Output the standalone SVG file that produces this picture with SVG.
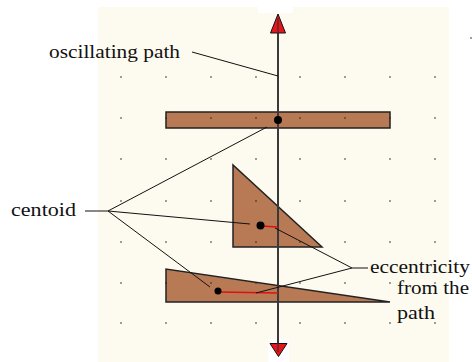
<svg xmlns="http://www.w3.org/2000/svg" width="472" height="362" viewBox="0 0 472 362">
<style>
.lbl{font-family:"Liberation Serif","Times New Roman",serif;font-size:19px;fill:#111}
.shape{fill:#B87A55;stroke:#222;stroke-width:1.5}
.lead{stroke:#111;stroke-width:1;fill:none}
.ecc{stroke:#E01010;stroke-width:1.5}
.dot{fill:#222}
.arrow{fill:#E8141C;stroke:#111;stroke-width:1}
</style>
<defs>
<g id="grow">
<circle cx="121" cy="0" r="0.8"/><circle cx="166" cy="0" r="0.8"/><circle cx="211" cy="0" r="0.8"/><circle cx="256" cy="0" r="0.8"/><circle cx="300" cy="0" r="0.8"/><circle cx="345" cy="0" r="0.8"/><circle cx="390" cy="0" r="0.8"/><circle cx="435" cy="0" r="0.8"/>
</g>
</defs>
<rect width="472" height="362" fill="#fff"/>
<rect x="98" y="7" width="351" height="355" fill="#FDFBF0"/>
<rect x="258" y="0" width="35" height="13" fill="#fff"/>
<rect x="268" y="339" width="21" height="23" fill="#fff"/>

<g id="bar"><rect class="shape" x="166" y="112" width="224" height="16"/></g>
<g id="triangle-mid"><polygon class="shape" points="233,165 233,247 322,247"/></g>
<g id="triangle-low"><polygon class="shape" points="166,269 166,302 390,302"/></g>

<g id="grid" class="dot">
<use href="#grow" y="77"/><use href="#grow" y="118"/><use href="#grow" y="159"/><use href="#grow" y="201"/><use href="#grow" y="242"/><use href="#grow" y="283"/><use href="#grow" y="323"/>
<circle cx="471" cy="38" r="0.8"/>
</g>

<g id="axis">
<line x1="278" y1="20" x2="278" y2="350" stroke="#444" stroke-width="2"/>
<polygon class="arrow" points="278,14 285.5,33 270.5,33"/>
<polygon class="arrow" points="270,343.5 287,343.5 278.5,356.5"/>
<line x1="278" y1="18" x2="278" y2="352" stroke="#333" stroke-width="1.2"/>
</g>

<g id="eccentricities">
<line class="ecc" x1="261" y1="226" x2="278" y2="227"/>
<line class="ecc" x1="218" y1="292" x2="278" y2="293"/>
</g>

<g id="centroids" fill="#000">
<circle cx="278" cy="120" r="4"/>
<circle cx="260.5" cy="225.5" r="4"/>
<circle cx="218" cy="291" r="3.5"/>
</g>

<g id="connectors" class="lead">
<polyline points="192,52 278,76"/>
<line x1="85" y1="211" x2="108" y2="211"/>
<line x1="108" y1="211" x2="267" y2="127"/>
<line x1="108" y1="211" x2="250" y2="224"/>
<line x1="108" y1="211" x2="210" y2="287"/>
<line x1="368" y1="268" x2="352" y2="268"/>
<line x1="352" y1="268" x2="275" y2="228"/>
<line x1="352" y1="268" x2="256" y2="293"/>
</g>

<g id="labels">
<text class="lbl" x="49" y="58" textLength="131" lengthAdjust="spacingAndGlyphs">oscillating path</text>
<text class="lbl" x="11" y="216" textLength="65" lengthAdjust="spacingAndGlyphs">centoid</text>
<text class="lbl" x="370" y="273" textLength="100" lengthAdjust="spacingAndGlyphs">eccentricity</text>
<text class="lbl" x="397" y="294" textLength="72" lengthAdjust="spacingAndGlyphs">from the</text>
<text class="lbl" x="397" y="319" textLength="38" lengthAdjust="spacingAndGlyphs">path</text>
</g>
</svg>
